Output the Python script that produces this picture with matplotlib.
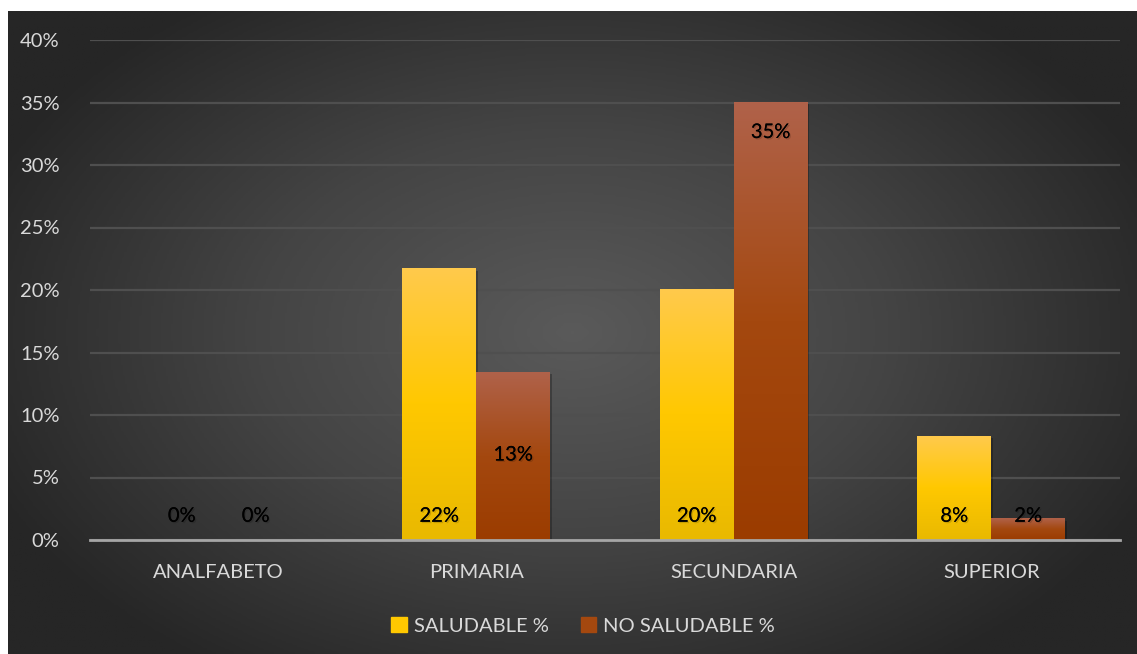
import numpy as np
import matplotlib.pyplot as plt
from matplotlib.colors import LinearSegmentedColormap
from matplotlib.patches import Rectangle
import matplotlib.patheffects as pe

categories = ["ANALFABETO", "PRIMARIA", "SECUNDARIA", "SUPERIOR"]
saludable = [0, 21.7, 20.0, 8.3]
no_saludable = [0, 13.4, 35.0, 1.7]
saludable_labels = ["0%", "22%", "20%", "8%"]
no_saludable_labels = ["0%", "13%", "35%", "2%"]
# y (data units) where each data label sits
saludable_label_y = [1.9, 1.9, 1.9, 1.9]
no_saludable_label_y = [1.9, 6.8, 32.6, 1.9]
yticks = [0, 5, 10, 15, 20, 25, 30, 35, 40]

plt.rcParams["font.family"] = ["Lato", "DejaVu Sans"]

W, H = 1137, 654
fig = plt.figure(figsize=(W / 100, H / 100), dpi=100)
fig.patch.set_facecolor("white")

# dark radial background panel
bg = fig.add_axes([8 / W, 0, 1 - 8 / W, 1 - 11 / H])
bg.set_axis_off()
yy, xx = np.mgrid[0:1:300j, 0:1:500j]
r = np.sqrt(((xx - 0.5) / 0.75) ** 2 + ((yy - 0.5) / 0.85) ** 2)
bg_cmap = LinearSegmentedColormap.from_list("bg", ["#5a5a5a", "#444444", "#262626"])
bg.imshow(r, cmap=bg_cmap, aspect="auto", extent=[0, 1, 0, 1], vmin=0, vmax=0.75)
bg.set_xlim(0, 1)
bg.set_ylim(0, 1)

ax = fig.add_axes([90 / W, 1 - 540 / H, 1030 / W, 500 / H])
ax.set_facecolor("none")
ax.set_xlim(-0.5, 3.5)
ax.set_ylim(0, 40)

yellow = LinearSegmentedColormap.from_list("y", ["#e9b900", "#ffc800", "#ffca4c"])
brown = LinearSegmentedColormap.from_list("b", ["#9b3c00", "#a4480f", "#b0624a"])

bw = 0.287
x = np.arange(len(categories))
grad = np.linspace(0, 1, 256).reshape(-1, 1)

def draw_bars(xs, vals, cmap, name):
    bars = ax.bar(xs, vals, bw, color="none", label=name, zorder=3)
    for b in bars:
        x0, h = b.get_x(), b.get_height()
        if h <= 0:
            continue
        shadow = Rectangle((x0 + 0.006, -0.15), bw, h, color="black", alpha=0.25, zorder=2, lw=0)
        ax.add_patch(shadow)
        ax.imshow(grad, cmap=cmap, extent=[x0, x0 + bw, 0, h], origin="lower",
                  aspect="auto", zorder=3)
    return bars

draw_bars(x - bw / 2, saludable, yellow, "SALUDABLE %")
draw_bars(x + bw / 2, no_saludable, brown, "NO SALUDABLE %")
ax.set_xlim(-0.5, 3.5)
ax.set_ylim(0, 40)

shadow_fx = [pe.withSimplePatchShadow(offset=(1, -1), shadow_rgbFace="#000000", alpha=0.15), pe.Normal()]
for i in range(len(categories)):
    ax.text(x[i] - bw / 2, saludable_label_y[i], saludable_labels[i], ha="center", va="center",
            fontsize=14.5, color="black", zorder=5, path_effects=shadow_fx)
    ax.text(x[i] + bw / 2, no_saludable_label_y[i], no_saludable_labels[i], ha="center", va="center",
            fontsize=14.5, color="black", zorder=5, path_effects=shadow_fx)

ax.set_yticks(yticks)
ax.set_yticklabels([f"{v}%" for v in yticks])
ax.set_xticks(x)
ax.set_xticklabels(categories)
ax.tick_params(axis="both", length=0, colors="#d9d9d9", labelsize=14.5)
ax.tick_params(axis="y", pad=22)
ax.tick_params(axis="x", pad=17)
ax.grid(axis="y", color="#4f4f4f", lw=1.6, zorder=0)
ax.set_axisbelow(True)
for s in ["top", "right", "left"]:
    ax.spines[s].set_visible(False)
ax.spines["bottom"].set_color("#a6a6a6")
ax.spines["bottom"].set_linewidth(2)
ax.spines["bottom"].set_zorder(4)

handles = [Rectangle((0, 0), 1, 1, color="#ffc800"), Rectangle((0, 0), 1, 1, color="#a4480f")]
leg = fig.legend(handles, ["SALUDABLE %", "NO SALUDABLE %"], loc="center",
                 bbox_to_anchor=(583 / W, 1 - 626 / H), ncol=2, frameon=False,
                 fontsize=14.5, labelcolor="#d9d9d9", handlelength=0.75, handleheight=0.75,
                 handletextpad=0.35, columnspacing=1.6)

fig.savefig("out.png", dpi=100, facecolor="white")
